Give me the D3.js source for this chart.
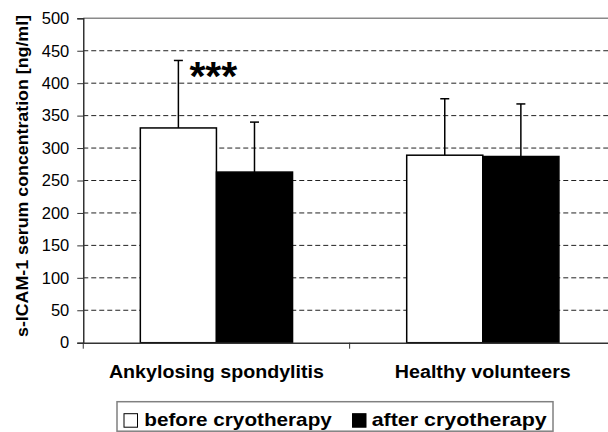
<!DOCTYPE html>
<html><head><meta charset="utf-8">
<script src="https://cdn.jsdelivr.net/npm/d3@7"></script>
<style>
html,body{margin:0;padding:0;background:#fff;}
svg{display:block;font-family:"Liberation Sans",Arial,sans-serif;}
</style></head>
<body>
<script>
const categories = ["Ankylosing spondylitis", "Healthy volunteers"];
const seriesNames = ["before cryotherapy", "after cryotherapy"];
const beforeValues = [331, 289];
const beforeErrors = [104, 87];
const afterValues = [263, 287];
const afterErrors = [77, 81];
const yTicks = [0, 50, 100, 150, 200, 250, 300, 350, 400, 450, 500];
const significance = ["***", ""];

const W = 608, H = 432;
const m = {left: 83.25, top: 18.3, right: -8, bottom: 89.3};
const svg = d3.select("body").append("svg").attr("width", W).attr("height", H);
const pw = W - m.left - m.right, ph = H - m.top - m.bottom;
const g = svg.append("g").attr("transform", `translate(${m.left},${m.top})`);

const y = d3.scaleLinear().domain([0, 500]).range([ph, 0]);
const x0 = d3.scaleBand().domain(categories).range([0, pw]).paddingInner(0).paddingOuter(0);
const x1 = d3.scaleBand().domain(seriesNames).range([0, x0.bandwidth()]).paddingOuter(0.75).paddingInner(0);

// gridlines
g.append("g").selectAll("line").data(yTicks.filter(t => t > 0 && t < 500)).join("line")
  .attr("x1", 0).attr("x2", pw).attr("y1", d => y(d)).attr("y2", d => y(d))
  .attr("stroke", "#222").attr("stroke-width", 1).attr("stroke-dasharray", "5,3");
// top border
g.append("line").attr("x1", 0).attr("x2", pw).attr("y1", y(500)).attr("y2", y(500))
  .attr("stroke", "#8a8a8a").attr("stroke-width", 1.5);

const data = categories.map((c, i) => [
  {cat: c, s: seriesNames[0], v: beforeValues[i], e: beforeErrors[i], fill: "#fff"},
  {cat: c, s: seriesNames[1], v: afterValues[i], e: afterErrors[i], fill: "#000"}
]).flat();

// error bars
const eb = g.append("g").selectAll("g").data(data).join("g");
eb.append("line")
  .attr("x1", d => x0(d.cat) + x1(d.s) + x1.bandwidth()/2)
  .attr("x2", d => x0(d.cat) + x1(d.s) + x1.bandwidth()/2)
  .attr("y1", d => y(d.v)).attr("y2", d => y(d.v + d.e))
  .attr("stroke", "#000").attr("stroke-width", 1.5);
eb.append("line")
  .attr("x1", d => x0(d.cat) + x1(d.s) + x1.bandwidth()/2 - 4.5)
  .attr("x2", d => x0(d.cat) + x1(d.s) + x1.bandwidth()/2 + 4.5)
  .attr("y1", d => y(d.v + d.e)).attr("y2", d => y(d.v + d.e))
  .attr("stroke", "#000").attr("stroke-width", 1.5);

// bars
g.append("g").selectAll("rect").data(data).join("rect")
  .attr("x", d => x0(d.cat) + x1(d.s))
  .attr("width", x1.bandwidth())
  .attr("y", d => y(d.v))
  .attr("height", d => y(0) - y(d.v))
  .attr("fill", d => d.fill)
  .attr("stroke", "#000").attr("stroke-width", 1.5);

// significance
g.append("g").selectAll("text").data(categories).join("text")
  .attr("x", (d, i) => x0(d) + x1(seriesNames[0]) + x1.bandwidth()/2 + 11)
  .attr("y", (d, i) => y(beforeValues[i] + beforeErrors[i]) + 30)
  .attr("font-size", 41).attr("font-weight", "bold")
  .text((d, i) => significance[i]);

// y axis
const yAxis = g.append("g").call(d3.axisLeft(y).tickValues(yTicks).tickSize(6).tickPadding(8).tickFormat(d3.format("d")));
yAxis.select(".domain").attr("stroke", "#333").attr("stroke-width", 1.5);
yAxis.selectAll(".tick line").attr("stroke", "#333").attr("stroke-width", 1);
yAxis.selectAll(".tick text").attr("font-size", 16.5).attr("fill", "#000")
  .attr("font-family", "Liberation Sans, Arial, sans-serif");

// x axis
const xAxis = g.append("g").attr("transform", `translate(0,${ph})`)
  .call(d3.axisBottom(x0).tickSize(0).tickPadding(0));
xAxis.select(".domain").attr("stroke", "#333").attr("stroke-width", 1.5);
const catWidths = [215, 176];
xAxis.selectAll(".tick text")
  .attr("dy", null).attr("y", 378.3 - (m.top + ph))
  .attr("font-size", 18).attr("font-weight", "bold").attr("fill", "#000")
  .attr("font-family", "Liberation Sans, Arial, sans-serif")
  .attr("textLength", (d, i) => catWidths[i]).attr("lengthAdjust", "spacingAndGlyphs");
// category separator ticks
g.append("g").selectAll("line").data(categories).join("line")
  .attr("x1", d => x0(d)).attr("x2", d => x0(d))
  .attr("y1", ph).attr("y2", ph + 6)
  .attr("stroke", "#333").attr("stroke-width", 1);

// y title
svg.append("text")
  .attr("transform", `translate(27.5,176) rotate(-90)`)
  .attr("text-anchor", "middle")
  .attr("font-size", 17).attr("font-weight", "bold")
  .attr("textLength", 322).attr("lengthAdjust", "spacingAndGlyphs")
  .text("s-ICAM-1 serum concentration [ng/ml]");

// legend
const lg = svg.append("g");
const lx = 117, ly = 401.7, lw = 436, lh = 29.5;
lg.append("rect").attr("x", lx).attr("y", ly).attr("width", lw).attr("height", lh)
  .attr("fill", "#fff").attr("stroke", "#808080").attr("stroke-width", 1.5);
const fills = ["#fff", "#000"];
const symX = [124, 352.5];
const txtX = [144.3, 371.7];
const txtW = [187.5, 175];
seriesNames.forEach((s, i) => {
  lg.append("rect").attr("x", symX[i]).attr("y", ly + 12).attr("width", 13.5).attr("height", 13.5)
    .attr("fill", fills[i]).attr("stroke", "#000").attr("stroke-width", 1);
  lg.append("text").attr("x", txtX[i]).attr("y", ly + 24.5)
    .attr("font-size", 19).attr("font-weight", "bold")
    .attr("textLength", txtW[i]).attr("lengthAdjust", "spacingAndGlyphs")
    .text(s);
});
</script>
</body></html>
